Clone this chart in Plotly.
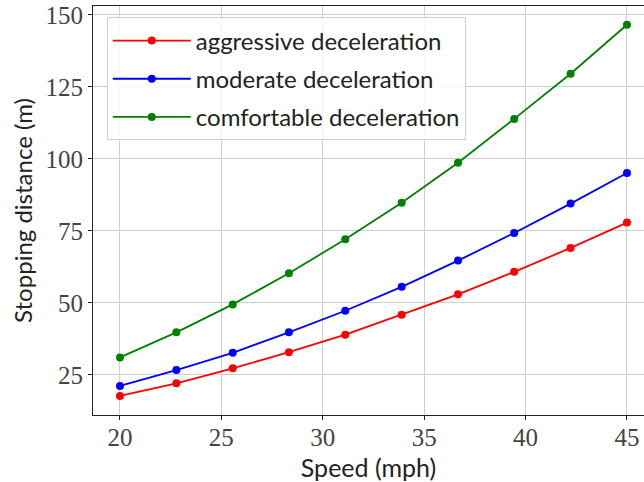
import plotly.graph_objects as go

speed = [20.0, 22.78, 25.56, 28.33, 31.11, 33.89, 36.67, 39.44, 42.22, 45.0]
aggressive = [17.7, 22.1, 27.3, 32.9, 39.0, 45.9, 53.0, 60.8, 69.1, 77.9]
moderate = [21.2, 26.7, 32.7, 39.8, 47.3, 55.6, 64.7, 74.3, 84.5, 95.1]
comfortable = [31.1, 39.8, 49.5, 60.3, 72.1, 84.8, 98.7, 113.9, 129.6, 146.6]

series = [
    ("aggressive deceleration", aggressive, "#ff0000"),
    ("moderate deceleration", moderate, "#0000ff"),
    ("comfortable deceleration", comfortable, "#008000"),
]

sans = "Lato"
serif = "Liberation Serif, serif"

fig = go.Figure()
for i, (name, vals, col) in enumerate(series):
    fig.add_trace(go.Scatter(
        x=speed, y=vals, name=name, mode="lines+markers",
        line=dict(color=col, width=1.8),
        marker=dict(color=col, size=8),
        legendgroup=f"g{i}",
    ))

fig.update_layout(
    width=644, height=482,
    margin=dict(l=93, r=0, t=6, b=67),
    plot_bgcolor="white", paper_bgcolor="white",
    showlegend=True,
    legend=dict(
        x=0.025, y=0.972, xanchor="left", yanchor="top",
        bgcolor="rgba(255,255,255,0.85)", bordercolor="#d0d0d0", borderwidth=1,
        font=dict(family=sans, size=24, color="#222222"),
        traceorder="grouped", tracegroupgap=4, itemwidth=78,
    ),
    xaxis=dict(
        range=[18.67, 45.84], tickvals=[20, 25, 30, 35, 40, 45],
        showgrid=True, gridcolor="#cfcfcf", gridwidth=1,
        showline=True, linecolor="#222222", linewidth=1.2, mirror=True,
        ticks="outside", ticklen=4, tickcolor="#222222",
        ticklabelstandoff=-4,
        tickfont=dict(family=serif, size=25, color="#444444"),
        title=dict(text="Speed (mph)", font=dict(family=sans, size=25, color="#222222"), standoff=10),
        zeroline=False,
    ),
    yaxis=dict(
        range=[11.1, 153.1], tickvals=[25, 50, 75, 100, 125, 150],
        showgrid=True, gridcolor="#cfcfcf", gridwidth=1,
        showline=True, linecolor="#222222", linewidth=1.2, mirror=False,
        ticks="outside", ticklen=4, tickcolor="#222222",
        tickfont=dict(family=serif, size=25, color="#444444"),
        title=dict(text="Stopping distance (m)", font=dict(family=sans, size=24, color="#222222"), standoff=6),
        zeroline=False,
    ),
)

fig.write_html(
    "out.html",
    config={"displayModeBar": False},
    post_script="document.body.style.margin='0';document.body.style.overflow='hidden';",
)
